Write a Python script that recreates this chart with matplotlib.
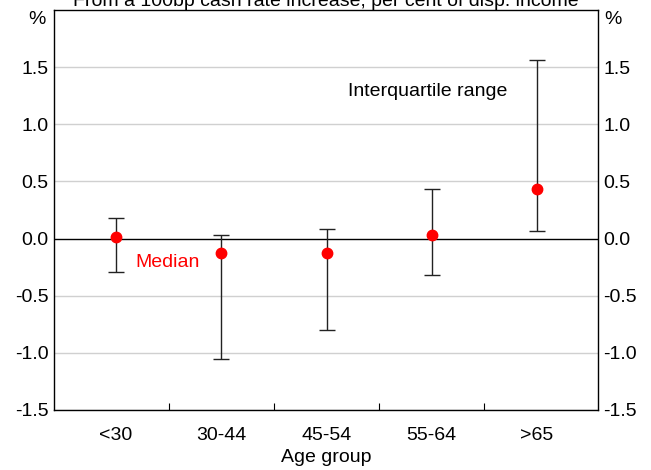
import matplotlib
matplotlib.use("Agg")
import matplotlib.pyplot as plt
import numpy as np

plt.rcParams['font.family'] = ['Liberation Sans', 'DejaVu Sans']
plt.rcParams['axes.unicode_minus'] = False

categories = ["<30", "30-44", "45-54", "55-64", ">65"]
median = [0.01, -0.13, -0.13, 0.035, 0.43]
q_low = [-0.29, -1.05, -0.80, -0.32, 0.07]
q_high = [0.18, 0.035, 0.08, 0.43, 1.56]
yticks = [-1.5, -1.0, -0.5, 0.0, 0.5, 1.0, 1.5]

FS = 14

fig = plt.figure(figsize=(6.51, 4.70), dpi=100)
ax = fig.add_axes([54/651, 60/470, 544/651, 400/470])

x = np.arange(len(categories))
med = np.array(median)
lo = med - np.array(q_low)
hi = np.array(q_high) - med

for y in yticks:
    if y != 0.0:
        ax.axhline(y, color='#d0d0d0', lw=1, zorder=0)
ax.axhline(0, color='black', lw=1, zorder=1)

ax.errorbar(x, med, yerr=[lo, hi], fmt='none', ecolor='#222222', elinewidth=1,
            capsize=6, capthick=1, zorder=2)
ax.plot(x, med, 'o', color='#ff0000', markersize=7.5, zorder=3)

ax.set_xlim(-0.59, 4.58)
ax.set_ylim(-1.5, 2.0)
ax.set_xticks(x)
ax.set_xticklabels(categories, fontsize=FS)
ax.set_xticks([0.5, 1.5, 2.5, 3.5], minor=True)
ax.tick_params(axis='x', which='major', length=0, pad=12)
ax.tick_params(axis='x', which='minor', direction='in', length=5, width=0.8)
ax.set_yticks(yticks)
ax.set_yticklabels([f"{v:.1f}" for v in yticks], fontsize=FS)
ax.tick_params(axis='y', length=0, pad=4, labelright=True, right=False)
for s in ax.spines.values():
    s.set_linewidth(1)
ax.set_xlabel("Age group", fontsize=FS, labelpad=4)

fig.text(37/651, 1-20/470, "%", fontsize=FS, ha='center', va='center')
fig.text(613/651, 1-20/470, "%", fontsize=FS, ha='center', va='center')
fig.text(0.5, 1-1/470, "From a 100bp cash rate increase, per cent of disp. income",
         fontsize=FS, ha='center', va='center')

ax.text(2.2, 1.29, "Interquartile range", fontsize=FS, ha='left', va='center')
ax.text(0.18, -0.21, "Median", fontsize=FS, ha='left', va='center', color='#ff0000')

fig.savefig("out.png", dpi=100)
